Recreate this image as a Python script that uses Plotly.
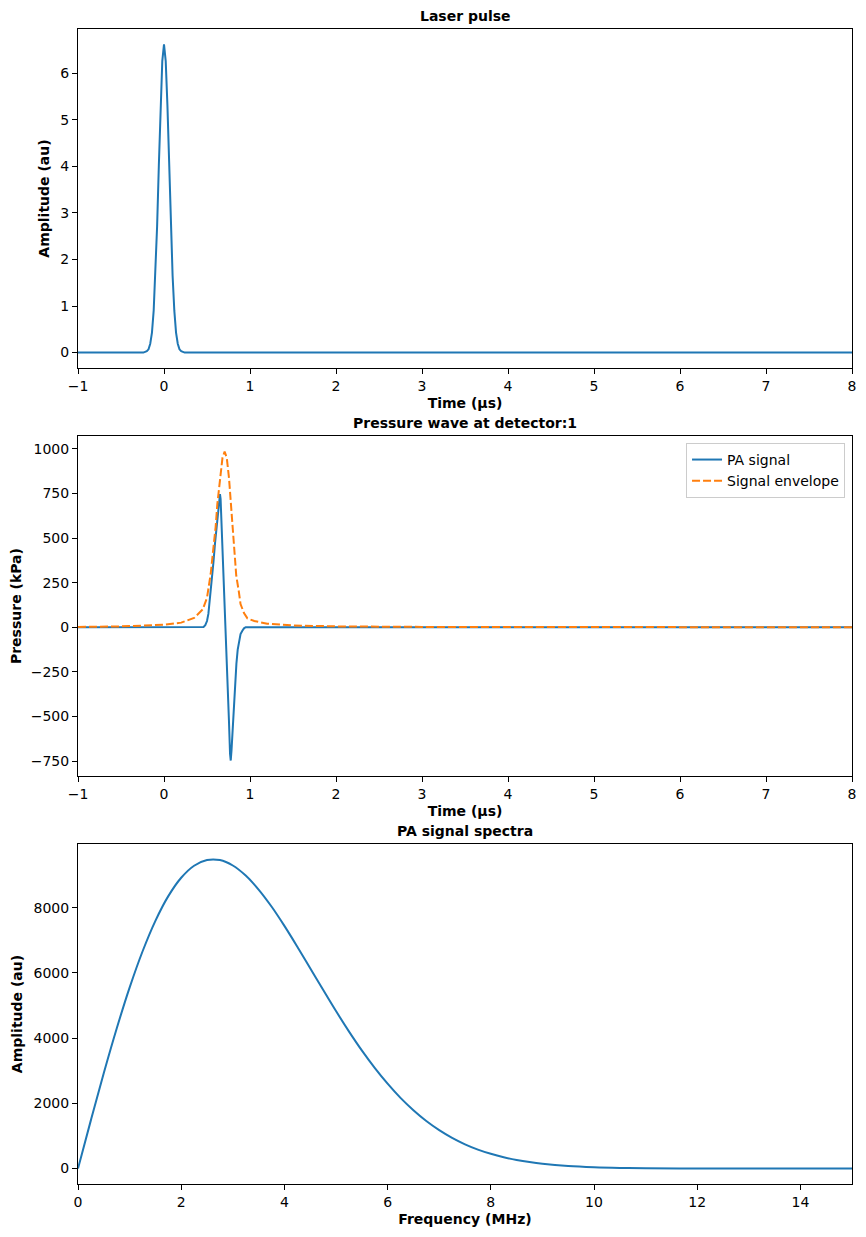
import plotly.graph_objects as go

# laser pulse (time in µs, amplitude in au)
laser_t = [-1.0, -0.3, -0.24, -0.2, -0.18, -0.16, -0.14, -0.12, -0.10, -0.08, -0.06, -0.04, -0.02, 0.0,
           0.02, 0.04, 0.06, 0.08, 0.10, 0.12, 0.14, 0.16, 0.18, 0.20, 0.24, 0.3, 8.0]
laser_amp = [0, 0, 0.0, 0.03, 0.07, 0.19, 0.43, 0.90, 1.65, 2.72, 4.02, 5.30, 6.26, 6.62,
             6.26, 5.30, 4.02, 2.72, 1.65, 0.90, 0.43, 0.19, 0.07, 0.03, 0.0, 0, 0]

# PA signal at detector 1 (kPa)
pa_t = [-1.0, 0.44, 0.46, 0.48, 0.50, 0.516, 0.535, 0.555, 0.575, 0.593, 0.612, 0.632, 0.645, 0.651,
        0.658, 0.675, 0.695, 0.714, 0.735, 0.755, 0.768, 0.776, 0.785, 0.80, 0.814, 0.828, 0.842,
        0.857, 0.872, 0.89, 0.911, 0.93, 0.95, 8.0]
pa_p = [0, 0, 2, 12, 35, 75, 160, 263, 365, 470, 565, 657, 730, 746,
        720, 520, 280, 0, -260, -520, -710, -747, -690, -560, -429, -300, -204,
        -125, -75, -38, -19, -6, 0, 0]

# Hilbert envelope (kPa)
env_t = [-1.0, -0.5, 0.0, 0.2, 0.35, 0.45, 0.5, 0.543, 0.58, 0.60, 0.62, 0.64, 0.66, 0.68, 0.705,
         0.73, 0.756, 0.78, 0.80, 0.82, 0.84, 0.87, 0.89, 0.93, 0.97, 1.05, 1.2, 1.5, 2.0, 3.0, 5.0, 8.0]
env_p = [2, 5, 14, 26, 52, 100, 165, 300, 470, 560, 690, 790, 890, 950, 985,
         950, 835, 690, 540, 410, 290, 200, 130, 80, 50, 35, 20, 10, 5, 2, 1, 0]

# spectrum (MHz, au)
freq = [0, 0.25, 0.5, 0.75, 1.0, 1.25, 1.5, 1.75, 2.0, 2.25, 2.5, 2.75, 3.0, 3.25, 3.5, 3.75, 4.0,
        4.25, 4.5, 4.75, 5.0, 5.25, 5.5, 5.75, 6.0, 6.25, 6.5, 6.75, 7.0, 7.25, 7.5, 7.75, 8.0,
        8.25, 8.5, 8.75, 9.0, 9.5, 10.0, 10.5, 11.0, 12.0, 13.0, 14.0, 15.0]
spec = [0, 1485, 2930, 4295, 5548, 6656, 7597, 8354, 8918, 9287, 9462, 9460, 9294, 8985, 8556, 8035, 7442,
        6804, 6144, 5482, 4830, 4207, 3623, 3088, 2603, 2167, 1788, 1458, 1178, 941, 744, 582, 452,
        346, 263, 198, 147, 79, 41, 20, 10, 2, 0.3, 0, 0]

BLUE = '#1f77b4'
ORANGE = '#ff7f0e'
FONT = 'DejaVu Sans'

fig = go.Figure()

fig.add_trace(go.Scatter(x=laser_t, y=laser_amp, mode='lines', line=dict(color=BLUE, width=2),
                         showlegend=False, xaxis='x', yaxis='y'))
fig.add_trace(go.Scatter(x=pa_t, y=pa_p, mode='lines', name='PA signal',
                         line=dict(color=BLUE, width=2), xaxis='x2', yaxis='y2'))
fig.add_trace(go.Scatter(x=env_t, y=env_p, mode='lines', name='Signal envelope',
                         line=dict(color=ORANGE, width=2, dash='8px,3px'), xaxis='x2', yaxis='y2'))
fig.add_trace(go.Scatter(x=freq, y=spec, mode='lines', line=dict(color=BLUE, width=2, shape='spline'),
                         showlegend=False, xaxis='x3', yaxis='y3'))

axis_style = dict(showline=True, linecolor='black', linewidth=1, mirror=True, ticks='outside',
                  ticklen=5, tickcolor='black', showgrid=False, zeroline=False, automargin=False,
                  tickfont=dict(size=14, color='black'))
title_font = dict(size=14, color='black')


def xtitle(text):
    return dict(text='<b>' + text + '</b>', standoff=5, font=title_font)


def ytitle(text):
    return dict(text='<b>' + text + '</b>', standoff=7, font=title_font)


# page has an 8px body margin, so the figure is 8px smaller than the window
# plot area: y pixel 29..1184 of the window -> paper 1..0
fig.update_layout(
    width=858, height=1229,
    margin=dict(l=70, r=14, t=21, b=53),
    plot_bgcolor='white', paper_bgcolor='white',
    font=dict(family=FONT, size=14, color='black'),
    xaxis=dict(domain=[0, 1], anchor='y', range=[-1, 8], dtick=1, title=xtitle('Time (µs)'), **axis_style),
    yaxis=dict(domain=[0.7065, 1.0], anchor='x', range=[-0.331, 6.951], dtick=1,
               title=ytitle('Amplitude (au)'), **axis_style),
    xaxis2=dict(domain=[0, 1], anchor='y2', range=[-1, 8], dtick=1, title=xtitle('Time (µs)'), **axis_style),
    yaxis2=dict(domain=[0.3532, 0.6476], anchor='x2', range=[-834, 1072], tick0=-750, dtick=250,
                title=ytitle('Pressure (kPa)'), **axis_style),
    xaxis3=dict(domain=[0, 1], anchor='y3', range=[0, 15], dtick=2, title=xtitle('Frequency (MHz)'),
                **axis_style),
    yaxis3=dict(domain=[0, 0.2944], anchor='x3', range=[-474, 9954], dtick=2000, tickformat='d',
                title=ytitle('Amplitude (au)'), **axis_style),
    legend=dict(x=0.991, y=0.6416, xanchor='right', yanchor='top',
                bgcolor='rgba(255,255,255,0.8)', bordercolor='#cccccc', borderwidth=1,
                font=dict(size=14)),
)

titles = [('Laser pulse', 1.0), ('Pressure wave at detector:1', 0.6476), ('PA signal spectra', 0.2944)]
for text, ytop in titles:
    fig.add_annotation(text='<b>' + text + '</b>', xref='paper', yref='paper', x=0.5, y=ytop,
                       xanchor='center', yanchor='bottom', yshift=3, showarrow=False,
                       font=dict(size=14, color='black'))

fig.write_html("out.html")
